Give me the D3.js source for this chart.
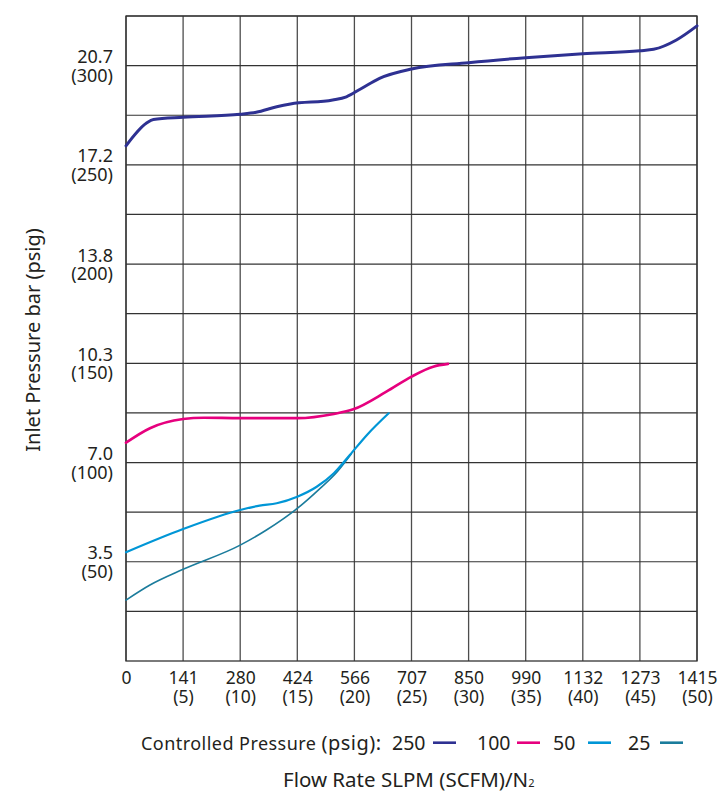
<!DOCTYPE html>
<html>
<head>
<meta charset="utf-8">
<script src="https://cdn.jsdelivr.net/npm/d3@7"></script>
<style>
  body { margin: 0; background: #fff; }
  text { font-family: "Noto Sans", "Open Sans", sans-serif; fill: #231f20; }
</style>
</head>
<body>
<div id="chart_div"></div>
<script>
// flow in SCFM, inlet pressure in psig
var xTicksScfm = [0, 5, 10, 15, 20, 25, 30, 35, 40, 45, 50];
var xTicksSlpm = ["0", "141", "280", "424", "566", "707", "850", "990", "1132", "1273", "1415"];
var yTicksPsig = [50, 100, 150, 200, 250, 300];
var yTicksBar = ["3.5", "7.0", "10.3", "13.8", "17.2", "20.7"];
var yGrid = [25, 50, 75, 100, 125, 150, 175, 200, 225, 250, 275, 300, 325];

var seriesNames = ["250", "100", "50", "25"];
var seriesColors = ["#2e3192", "#e6007e", "#0096d6", "#1b7c9c"];
var seriesWidths = [3, 2.6, 2.2, 1.6];

var flow250 = [0, 1.8, 2.4, 5.0, 10.0, 11.4, 13.2, 14.4, 18.1, 19.3, 20.5, 22.2, 25.0, 30.0, 35.0, 40.0, 45.0, 46.2, 48.2, 50.0];
var inlet250 = [259.6, 271.1, 272.9, 274.0, 275.5, 276.5, 279.3, 280.7, 282.7, 284.3, 288.1, 293.6, 298.3, 301.5, 304.0, 306.0, 307.5, 308.2, 312.9, 320.0];

var flow100 = [0, 2.1, 5.0, 6.8, 10.0, 15.0, 18.2, 19.9, 22.8, 25.0, 26.9, 28.2];
var inlet100 = [110.0, 117.3, 121.9, 122.6, 122.4, 122.4, 124.5, 126.8, 135.7, 143.3, 148.3, 149.7];

var flow50 = [0, 5.0, 10.0, 11.7, 13.2, 15.0, 16.7, 18.2, 19.6, 21.1, 23.0];
var inlet50 = [54.8, 66.5, 76.1, 78.3, 79.5, 82.8, 87.8, 94.6, 103.8, 113.9, 124.8];

var flow25 = [0, 2.1, 5.0, 10.0, 12.3, 15.0, 17.0, 18.5, 19.7];
var inlet25 = [30.7, 38.3, 46.2, 58.4, 66.0, 76.9, 87.0, 95.4, 104.2];

var W = 719, H = 791;
var margin = {top: 16, right: 22, bottom: 130, left: 126};
var w = W - margin.left - margin.right,
    h = H - margin.top - margin.bottom;

var svg = d3.select("#chart_div")
  .append("svg")
  .attr("width", W)
  .attr("height", H);

var g = svg.append("g")
  .attr("transform", "translate(" + margin.left + "," + margin.top + ")");

var xScale = d3.scaleLinear().domain([0, 50]).range([0, w]);
var yScale = d3.scaleLinear().domain([0, 325]).range([h, 0]);

// grid
g.selectAll(".vgrid").data(xTicksScfm).enter()
  .append("line")
  .attr("class", "vgrid")
  .attr("x1", function(d) { return xScale(d); })
  .attr("x2", function(d) { return xScale(d); })
  .attr("y1", 0)
  .attr("y2", h)
  .attr("stroke", "#4d4d4d")
  .attr("stroke-width", 1.3);

g.selectAll(".hgrid").data(yGrid).enter()
  .append("line")
  .attr("class", "hgrid")
  .attr("x1", 0)
  .attr("x2", w)
  .attr("y1", function(d) { return yScale(d); })
  .attr("y2", function(d) { return yScale(d); })
  .attr("stroke", "#333")
  .attr("stroke-width", 1.2);

g.append("rect")
  .attr("width", w)
  .attr("height", h)
  .attr("fill", "none")
  .attr("stroke", "#333")
  .attr("stroke-width", 1.3);

// x axis labels, SLPM on top, SCFM in brackets below (one text, two tspans)
var xAxis = d3.axisBottom(xScale).tickValues(xTicksScfm).tickSize(0).tickFormat("");
var gx = g.append("g")
  .attr("transform", "translate(0," + h + ")")
  .call(xAxis);
gx.select(".domain").remove();
gx.selectAll(".tick text").remove();
var xLab = gx.selectAll(".tick")
  .append("text")
  .attr("text-anchor", "middle")
  .attr("font-size", "17.5px")
  .attr("fill", "#231f20");
xLab.append("tspan")
  .attr("x", 0)
  .attr("y", 23)
  .text(function(d, i) { return xTicksSlpm[i]; });
xLab.filter(function(d) { return d > 0; })
  .append("tspan")
  .attr("x", 0)
  .attr("y", 41.5)
  .text(function(d) { return "(" + d + ")"; });

// y axis labels, bar on top, psig in brackets below
var yAxis = d3.axisLeft(yScale).tickValues(yTicksPsig).tickSize(0).tickFormat("");
var gy = g.append("g").call(yAxis);
gy.select(".domain").remove();
gy.selectAll(".tick text").remove();
var yLab = gy.selectAll(".tick")
  .append("text")
  .attr("text-anchor", "end")
  .attr("font-size", "18px")
  .attr("fill", "#231f20");
yLab.append("tspan")
  .attr("x", -13)
  .attr("y", -3)
  .text(function(d, i) { return yTicksBar[i]; });
yLab.append("tspan")
  .attr("x", -13)
  .attr("y", 15.5)
  .text(function(d) { return "(" + d + ")"; });

// curves
var allSeries = [
  {flow: flow250, inlet: inlet250},
  {flow: flow100, inlet: inlet100},
  {flow: flow50, inlet: inlet50},
  {flow: flow25, inlet: inlet25}
];

var line = d3.line()
  .x(function(d) { return xScale(d[0]); })
  .y(function(d) { return yScale(d[1]); })
  .curve(d3.curveMonotoneX);

// draw 25 first so 50 sits on top where they merge
[3, 2, 1, 0].forEach(function(i) {
  var s = allSeries[i];
  var pts = s.flow.map(function(f, j) { return [f, s.inlet[j]]; });
  g.append("path")
    .datum(pts)
    .attr("d", line)
    .attr("fill", "none")
    .attr("stroke", seriesColors[i])
    .attr("stroke-width", seriesWidths[i])
    .attr("stroke-linecap", "round");
});

// y title
svg.append("text")
  .attr("transform", "translate(40,340) rotate(-90)")
  .attr("text-anchor", "middle")
  .attr("font-size", "20px")
  .text("Inlet Pressure bar (psig)");

// legend
var legLabel = svg.append("text")
  .attr("x", 141)
  .attr("y", 749.5)
  .attr("font-size", "18px")
  .attr("textLength", 240)
  .attr("lengthAdjust", "spacing");
legLabel.append("tspan").text("Controlled Pressure ");
legLabel.append("tspan").attr("font-size", "20px").text("(psig):");

var legTextX = [392, 477, 553, 628];
var legLineX = [433, 517, 588, 660];
seriesNames.forEach(function(n, i) {
  svg.append("text")
    .attr("x", legTextX[i])
    .attr("y", 749.5)
    .attr("font-size", "19.5px")
    .text(n);
  svg.append("line")
    .attr("x1", legLineX[i])
    .attr("x2", legLineX[i] + 23)
    .attr("y1", 742.7)
    .attr("y2", 742.7)
    .attr("stroke", seriesColors[i])
    .attr("stroke-width", 2.6);
});

// x title
var xt = svg.append("text")
  .attr("x", 283)
  .attr("y", 786.5)
  .attr("font-size", "20.5px");
xt.append("tspan").text("Flow Rate SLPM (SCFM)/N");
xt.append("tspan").attr("font-size", "11px").text("2");
</script>
</body>
</html>
